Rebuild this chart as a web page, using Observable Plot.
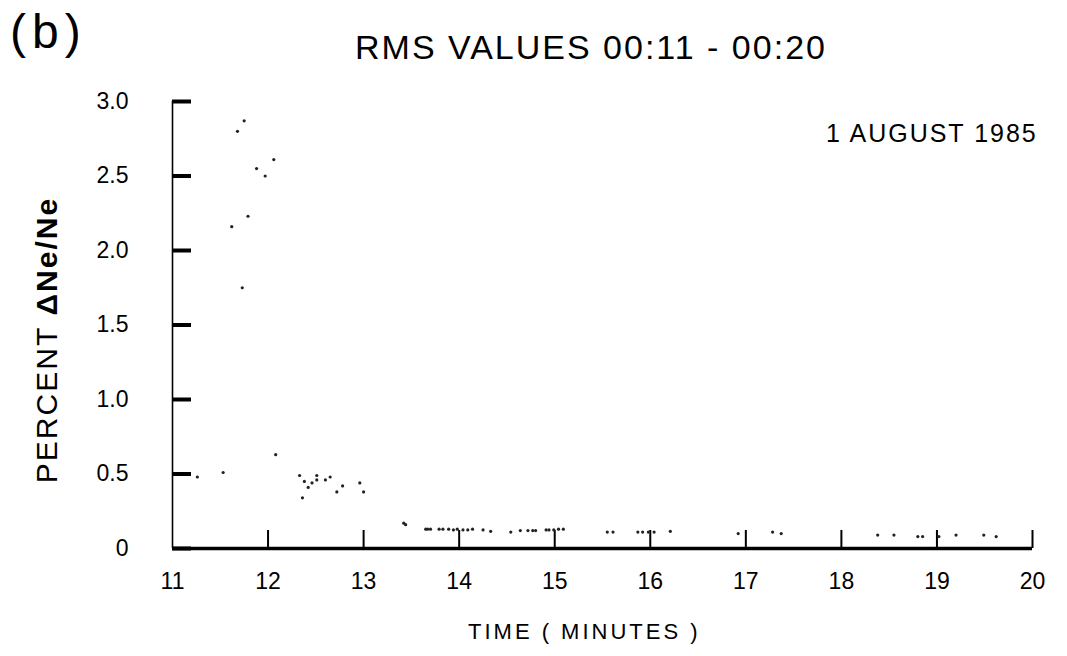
<!DOCTYPE html>
<html><head><meta charset="utf-8">
<script src="https://cdn.jsdelivr.net/npm/d3@7"></script>
<script src="https://cdn.jsdelivr.net/npm/@observablehq/plot@0.6"></script>
<style>
body{margin:0;background:#fff;font-family:"Liberation Sans",Arial,sans-serif;color:#000;}
#wrap{position:relative;width:1067px;height:656px;overflow:hidden;}
#wrap svg{position:absolute;left:0;top:0;}
.t{position:absolute;white-space:nowrap;line-height:1;}
#panel{left:10px;top:8px;font-size:48px;font-weight:300;letter-spacing:6px;}
#title{left:355px;top:30px;font-size:34px;letter-spacing:2px;}
#date{left:826px;top:121px;font-size:25px;letter-spacing:2px;}
#xlab{left:468px;top:621px;font-size:22px;letter-spacing:3px;}
#ylab{left:47px;top:340px;font-size:30px;transform:translate(-50%,-50%) rotate(-90deg);letter-spacing:2px;}
</style></head>
<body>
<div id="wrap">
  <div class="t" id="panel">(b)</div>
  <div class="t" id="title">RMS VALUES 00:11 - 00:20</div>
  <div class="t" id="date">1 AUGUST 1985</div>
  <div class="t" id="xlab">TIME ( MINUTES )</div>
  <div class="t" id="ylab">PERCENT&nbsp;<b>ΔNe/Ne</b></div>
</div>
<script>
const times = [
  11.62, 11.68, 11.73, 11.75, 11.79, 11.88, 11.97, 12.06,
  11.26, 11.53, 12.08, 12.33, 12.36, 12.38, 12.42, 12.46, 12.51, 12.51, 12.60, 12.65, 12.72, 12.78, 12.96, 13.00,
  13.42, 13.44, 13.67, 13.79,
  13.65, 13.70, 13.83, 13.89, 13.94, 13.98, 14.04, 14.09, 14.14, 14.25, 14.33, 14.54, 14.64, 14.72, 14.77, 14.80,
  14.91, 14.94, 14.99, 15.04, 15.09, 15.55, 15.61, 15.87, 15.92, 15.98, 16.04, 16.21,
  16.92, 17.28, 17.37, 18.38, 18.55, 18.80, 18.85, 19.02, 19.20, 19.49, 19.62
];
const values = [
  2.16, 2.80, 1.75, 2.87, 2.23, 2.55, 2.50, 2.61,
  0.48, 0.51, 0.63, 0.49, 0.34, 0.45, 0.41, 0.44, 0.46, 0.49, 0.46, 0.48, 0.38, 0.42, 0.44, 0.38,
  0.17, 0.16, 0.13, 0.13,
  0.13, 0.13, 0.13, 0.13, 0.125, 0.13, 0.125, 0.125, 0.13, 0.125, 0.115, 0.11, 0.12, 0.12, 0.12, 0.12,
  0.125, 0.125, 0.125, 0.13, 0.13, 0.11, 0.11, 0.11, 0.11, 0.11, 0.11, 0.115,
  0.10, 0.11, 0.10, 0.09, 0.09, 0.08, 0.08, 0.08, 0.09, 0.09, 0.08
];
const xTicks = [11, 12, 13, 14, 15, 16, 17, 18, 19, 20];
const yTicks = [0, 0.5, 1.0, 1.5, 2.0, 2.5, 3.0];
const yTickLabels = ["0", "0.5", "1.0", "1.5", "2.0", "2.5", "3.0"];

const data = times.map((t, i) => ({t, v: values[i]}));

const W = 1067, H = 656, ML = 172, MR = 35, MT = 101, MB = 108;
const plotW = W - ML - MR, plotH = H - MT - MB;

const chart = Plot.plot({
  width: W,
  height: H,
  marginLeft: ML,
  marginRight: MR,
  marginTop: MT,
  marginBottom: MB,
  style: {fontFamily: '"Liberation Sans", Arial, sans-serif', fontSize: "23px", color: "#000", background: "transparent"},
  x: {domain: [11, 20]},
  y: {domain: [0, 3]},
  marks: [
    Plot.axisX({ticks: xTicks, tickSize: 0, tickPadding: 24, label: null, fontSize: 23}),
    Plot.axisY({ticks: yTicks, tickSize: 0, tickPadding: 44, label: null, fontSize: 23,
      tickFormat: d => yTickLabels[yTicks.indexOf(d)]}),
    // inward tick marks
    Plot.tickX(xTicks.filter(d => d > 11), {x: d => d, stroke: "#000", strokeWidth: 2, insetTop: plotH - 18}),
    Plot.tickY(yTicks, {y: d => d, stroke: "#000", strokeWidth: 4, insetRight: plotW - 19}),
    Plot.ruleX([11], {stroke: "#000", strokeWidth: 1.6}),
    Plot.ruleY([0], {stroke: "#000", strokeWidth: 3.5}),
    Plot.dot(data, {x: "t", y: "v", r: 1.6, fill: "#222", stroke: "none"})
  ]
});
document.getElementById("wrap").prepend(chart);
</script>
</body></html>
